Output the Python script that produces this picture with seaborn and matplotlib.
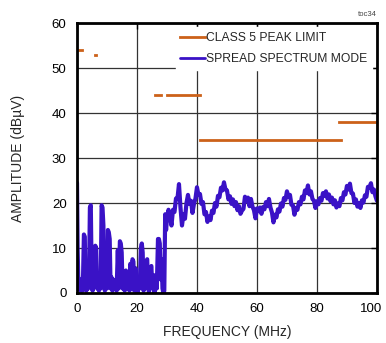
import numpy as np
import pandas as pd
import seaborn as sns
import matplotlib.pyplot as plt
from matplotlib.transforms import ScaledTranslation

# class 5 peak limit, one flat segment per band (MHz -> dBuV)
limit_start = [0.53, 5.9, 26, 30, 41, 87.5]
limit_stop = [1.8, 6.2, 28, 41, 88, 108]
limit_level = [54, 53, 44, 44, 34, 38]

# spread spectrum trace below 30MHz (spiky part)
low_freq = [0.0, 0.2, 0.4, 0.6, 0.8, 1.0, 1.2, 1.5, 1.8, 2.0, 2.3, 2.6, 2.8, 3.1, 3.4, 3.7,
            4.0, 4.3, 4.6, 4.9, 5.2, 5.5, 5.8, 6.1, 6.4, 6.7, 7.0, 7.3, 7.6, 7.9, 8.2, 8.5,
            8.8, 9.0, 9.3, 9.6, 10.0, 10.3, 10.6, 10.9, 11.2, 11.5, 11.8, 12.1, 12.5, 12.8,
            13.2, 13.6, 13.9, 14.3, 14.6, 14.9, 15.2, 15.5, 15.9, 16.3, 16.6, 16.9, 17.2,
            17.5, 17.8, 18.1, 18.5, 18.8, 19.1, 19.5, 19.8, 20.2, 20.5, 20.9, 21.3, 21.6,
            21.9, 22.2, 22.5, 22.8, 23.1, 23.4, 23.7, 24.0, 24.4, 24.8, 25.1, 25.5, 25.8,
            26.2, 26.6, 27.0, 27.3, 27.6, 27.9, 28.2, 28.5, 28.8, 29.1, 29.4, 29.7]
low_amp = [24.5, 10, 4, 2, 1, 3, 0.5, 2, 0.5, 3, 13, 12.5, 2, 0.5, 2.5, 1,
           3, 19, 19.5, 3, 0.5, 8.5, 2, 10.5, 10, 1, 3, 0.5, 2.5, 1, 19.5, 19,
           15, 2, 0.5, 3, 1, 14, 13.5, 12, 1, 3.5, 0.5, 3, 1, 2.5,
           0.5, 9.5, 1, 11.5, 11, 9, 1, 3, 0.5, 5, 4.5, 1, 3,
           0.5, 6.5, 1, 7.5, 7, 0.5, 5.5, 2, 0, 3, 1, 10, 11,
           9, 0.5, 4, 1, 7, 7.5, 2, 0, 5.5, 6, 1, 4, 0,
           3, 1, 12, 12, 11, 3, 7.5, 1, 0, 0.5, 17.5, 14]

# trace from 30MHz up, sampled every 0.5MHz
high_freq = np.arange(30, 100.25, 0.5)
high_amp = [16.5, 18.5, 17, 15, 18.5, 18, 21, 21, 24.2, 19,
            15, 17.5, 16.5, 20, 21.8, 19.8, 20.5, 17.8, 19.8, 21,
            23.5, 21.8, 22, 19.8, 20.2, 17.5, 18, 15.8, 17, 16.2,
            18.3, 17.8, 20, 19.2, 21.6, 21.3, 23.4, 22.8, 24.6, 23,
            22.8, 20.8, 21.5, 19.8, 20.8, 19.3, 20.2, 18.4, 19.3, 17.6,
            18.3, 18.7, 21.4, 20.4, 21.2, 19.3, 20.9, 19.2, 18.4, 16.6,
            18.8, 18.2, 19, 17.6, 19.1, 18.6, 20.2, 19.3, 20.9, 19,
            17.9, 15.7, 17.4, 16.8, 18.6, 18.1, 19.9, 19.2, 21.1, 20.7,
            22.6, 21.4, 21.8, 19.6, 19.5, 17.4, 18.9, 18.5, 20.2, 19.7,
            21.4, 20.8, 22.8, 22.3, 23.9, 21.9, 22.6, 20.9, 20.5, 18.9,
            20.4, 19.7, 21.1, 20.5, 22.2, 21.6, 22.6, 21, 21.9, 20.4,
            21.2, 19.7, 20.6, 19, 19.9, 19.3, 21.1, 20.6, 22.4, 21.9,
            23.8, 23, 24.3, 22.2, 22.1, 20, 20.8, 19.2, 20, 18.9,
            20.6, 20.1, 21.7, 21.4, 23.6, 23.4, 24.4, 22.4, 23, 21.5,
            20.5]

x_ticks = [0, 20, 40, 60, 80, 100]
y_ticks = [0, 10, 20, 30, 40, 50, 60]

orange = '#CC6119'
blue = '#3A12C6'

sns.set_style('white')
plt.rcParams['font.family'] = ['Liberation Sans Narrow', 'Liberation Sans', 'DejaVu Sans']

# limit segments as a long table, one unit per band
rows = []
for i, (a, b, lv) in enumerate(zip(limit_start, limit_stop, limit_level)):
    rows.append((i, a, lv))
    rows.append((i, b, lv))
lim_df = pd.DataFrame(rows, columns=['seg', 'freq', 'amp'])

trace_df = pd.DataFrame({'freq': list(low_freq) + list(high_freq),
                         'amp': list(low_amp) + list(high_amp)})

fig = plt.figure(figsize=(3.86, 3.43), dpi=100)
ax = fig.add_axes([0.1995, 0.1458, 0.777, 0.787])

sns.lineplot(data=lim_df, x='freq', y='amp', units='seg', estimator=None,
             color=orange, linewidth=2, ax=ax, solid_capstyle='projecting')
sns.lineplot(data=trace_df, x='freq', y='amp', estimator=None, sort=False,
             color=blue, linewidth=3.0, ax=ax)

ax.set_xlim(0, 100)
ax.set_ylim(0, 60)
ax.set_xticks(x_ticks)
ax.set_yticks(y_ticks)
ax.set_axisbelow(True)
ax.grid(True, color='#333333', linewidth=0.9)

for s in ax.spines.values():
    s.set_visible(True)
    s.set_color('black')
    s.set_linewidth(2)
    s.set_zorder(6)

ax.tick_params(direction='in', length=4, width=1, top=True, right=True,
               labelsize=9.5, pad=7.5, colors='black')

# last x label sits right at the figure edge, nudge it in a bit
last = ax.get_xticklabels()[-1]
last.set_transform(last.get_transform() + ScaledTranslation(-4 / 72, 0, fig.dpi_scale_trans))

ax.set_xlabel('FREQUENCY (MHz)', fontsize=10, labelpad=7)
ax.set_ylabel('AMPLITUDE (dB\u00b5V)', fontsize=10, labelpad=19)

# legend: two entries, white box, no border
lim_line = ax.lines[0]
trace_line = ax.lines[-1]
leg = ax.legend([lim_line, trace_line], ['CLASS 5 PEAK LIMIT', 'SPREAD SPECTRUM MODE'],
                loc='upper right', bbox_to_anchor=(0.985, 0.985), borderaxespad=0,
                frameon=True, fancybox=False, framealpha=1, facecolor='white',
                edgecolor='white', fontsize=8.7, handlelength=2.0,
                handletextpad=0.15, labelspacing=0.75, borderpad=0.4)
for h in leg.legend_handles:
    h.set_linewidth(2)

fig.text(0.975, 0.957, 'toc34', ha='right', va='center', fontsize=5.5, color='#444444')

fig.savefig('out.png', dpi=100)
